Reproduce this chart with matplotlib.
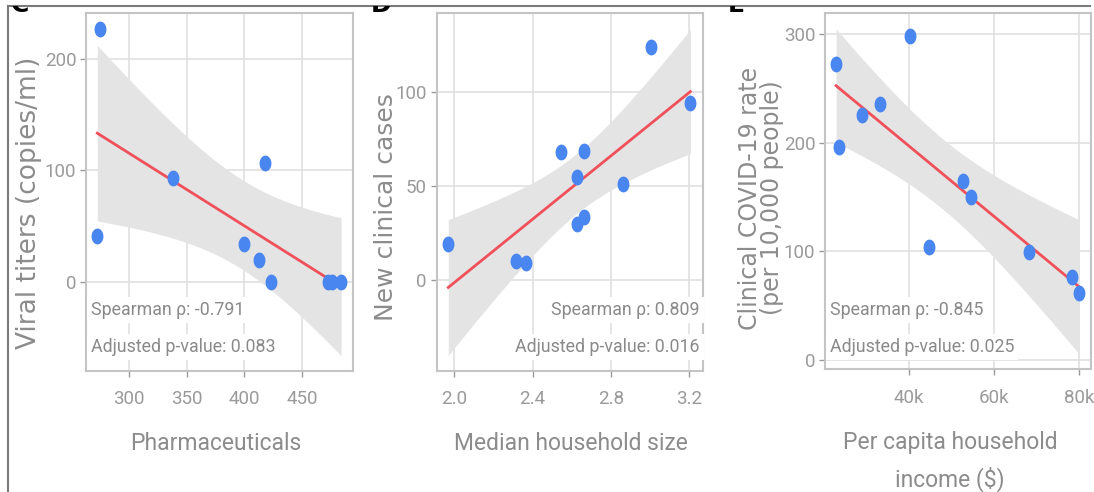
import numpy as np
import matplotlib
matplotlib.use("Agg")
import matplotlib.pyplot as plt
from matplotlib.path import Path
from matplotlib.lines import Line2D
from matplotlib.transforms import Bbox

# ---------------- data ----------------
pharma_x = [274.8, 272.5, 338.5, 418.0, 399.2, 412.6, 423.0, 472.5, 476.0, 483.7]
viral_y = [226.6, 40.6, 93.5, 106.4, 33.8, 19.1, 0.0, 0.0, 0.0, 0.0]

hh_size_x = [1.969, 2.315, 2.365, 2.546, 2.664, 2.628, 2.625, 2.662, 2.862, 3.006, 3.205]
cases_y = [19.0, 10.1, 8.9, 68.1, 68.8, 55.0, 29.8, 33.7, 51.1, 124.1, 94.0]

income_x = [22.9, 23.6, 29.1, 33.3, 40.2, 44.7, 52.7, 54.5, 68.1, 78.2, 79.9]  # thousands $
rate_y = [272.6, 195.8, 225.6, 235.7, 298.3, 104.3, 164.8, 149.8, 99.2, 76.7, 62.0]

stats_text = [
    ("Spearman \u03c1: -0.791", "Adjusted p-value: 0.083"),
    ("Spearman \u03c1: 0.809", "Adjusted p-value: 0.016"),
    ("Spearman \u03c1: -0.845", "Adjusted p-value: 0.025"),
]
xlabels = ["Pharmaceuticals", "Median household size", "Per capita household\nincome ($)"]
ylabels = ["Viral titers (copies/ml)", "New clinical cases", "Clinical COVID-19 rate\n(per 10,000 people)"]
x_ticks = [[300, 350, 400, 450], [2.0, 2.4, 2.8, 3.2], [40, 60, 80]]
x_ticklabels = [["300", "350", "400", "450"], ["2.0", "2.4", "2.8", "3.2"], ["40k", "60k", "80k"]]
y_ticks = [[0, 100, 200], [0, 50, 100], [0, 100, 200, 300]]
panel_letters = ["C", "D", "E"]

# t quantiles (97.5%) by degrees of freedom
T975 = {8: 2.306, 9: 2.262}

# ---------------- style ----------------
W, H = 1094, 492
fig = plt.figure(figsize=(W / 100, H / 100), dpi=100)

NARROW = ["Roboto", "DejaVu Sans"]
tick_color = "#9a9a9a"
title_color = "#8c8c8c"
text_color = "#8a8a8a"
pt_color = "#4a86ef"
line_color = "#f0505a"
ribbon_color = "#e4e4e4"
grid_color = "#e0e0e0"
spine_color = "#c4c4c4"

# elliptical marker (slightly taller than wide, like the reference)
t = np.linspace(0, 2 * np.pi, 40)
ell = Path(np.column_stack([0.75 * np.cos(t), np.sin(t)]), closed=True)

# axes rectangles in pixels: left, right, top, bottom
rects = [(86, 353, 13, 371), (436.7, 702.7, 12.7, 370.7), (825, 1090.7, 13.3, 369.3)]
xlims = [(262.7, 494), (1.91, 3.268), (20.3, 82.7)]
ylims = [(-80, 241), (-48.2, 142.2), (-8.6, 319.2)]
datasets = [(pharma_x, viral_y), (hh_size_x, cases_y), (income_x, rate_y)]
text_pos = [("left", 91), ("right", 700), ("left", 830)]
letter_x = [20, 381, 736]
ylabel_px = [(29, 203), (386, 207), (761, 198)]
ylabel_fs = [19, 18, 17]
xlabel_py = [443, 443, 461.5]
xlabel_cx = [215.5, 570.5, 950]

for i in range(3):
    l, r, tp, b = rects[i]
    ax = fig.add_axes([l / W, 1 - b / H, (r - l) / W, (b - tp) / H])
    x = np.array(datasets[i][0], float)
    y = np.array(datasets[i][1], float)

    # linear fit with 95% confidence band
    n = len(x)
    slope, icpt = np.polyfit(x, y, 1)
    resid = y - (slope * x + icpt)
    s = np.sqrt(np.sum(resid ** 2) / (n - 2))
    xx = np.linspace(x.min(), x.max(), 100)
    yy = slope * xx + icpt
    se = s * np.sqrt(1 / n + (xx - x.mean()) ** 2 / np.sum((x - x.mean()) ** 2))
    tq = T975[n - 2]
    ax.fill_between(xx, yy - tq * se, yy + tq * se, color=ribbon_color, lw=0, zorder=1)
    ax.plot(xx, yy, color=line_color, lw=2.0, zorder=2)
    ax.scatter(x, y, s=130, marker=ell, color=pt_color, lw=0, zorder=3)

    ax.set_xlim(*xlims[i])
    ax.set_ylim(*ylims[i])
    ax.set_xticks(x_ticks[i])
    ax.set_xticklabels(x_ticklabels[i])
    ax.set_yticks(y_ticks[i])
    ax.grid(True, color=grid_color, lw=1.2, zorder=0)
    ax.set_axisbelow(True)
    for sp in ax.spines.values():
        sp.set_color(spine_color)
        sp.set_linewidth(1.5)
    ax.tick_params(colors=tick_color, length=4, width=1, labelsize=13.5)
    ax.tick_params(axis="x", pad=10)
    ax.tick_params(axis="y", pad=3)
    for lab in ax.get_xticklabels() + ax.get_yticklabels():
        lab.set_family(NARROW)
        lab.set_color(tick_color)

    ax.set_xlabel(xlabels[i], family=NARROW, fontsize=16.5, color=title_color,
                  linespacing=1.6, va="center")
    ax.xaxis.set_label_coords((xlabel_cx[i] - l) / (r - l), (b - xlabel_py[i]) / (b - tp))
    ax.set_ylabel(ylabels[i], family="DejaVu Sans", fontsize=ylabel_fs[i], color=title_color,
                  linespacing=0.88, va="center")
    ax.yaxis.set_label_coords((ylabel_px[i][0] - l) / (r - l), (b - ylabel_px[i][1]) / (b - tp))

    ha, px = text_pos[i]
    xf = (px - l) / (r - l)
    for j, (txt, py) in enumerate(zip(stats_text[i], (310, 347))):
        yf = (b - py) / (b - tp)
        ax.text(xf, yf, txt, transform=ax.transAxes, ha=ha, va="center",
                family=NARROW, fontsize=12.8, color=text_color, zorder=5,
                bbox=dict(boxstyle="square,pad=0.2", fc="white", ec="none"))

    # panel letters, clipped to a thin strip at the top edge (as in the cropped reference)
    txt = fig.text(letter_x[i] / W, 1 - 12 / H, panel_letters[i], ha="center", va="baseline",
                   fontsize=18, fontweight="bold", color="black")
    txt.set_clip_box(Bbox.from_extents(0, H - 13, W, H - 6))
    txt.set_clip_on(True)

# outer frame lines (top and left)
fig.add_artist(Line2D([8 / W, 1090 / W], [1 - 6 / H, 1 - 6 / H], transform=fig.transFigure,
                      color="#7a7a7a", lw=1.5))
fig.add_artist(Line2D([8 / W, 8 / W], [0, 1 - 6 / H], transform=fig.transFigure,
                      color="#7a7a7a", lw=1.5))

fig.savefig("out.png", dpi=100)
